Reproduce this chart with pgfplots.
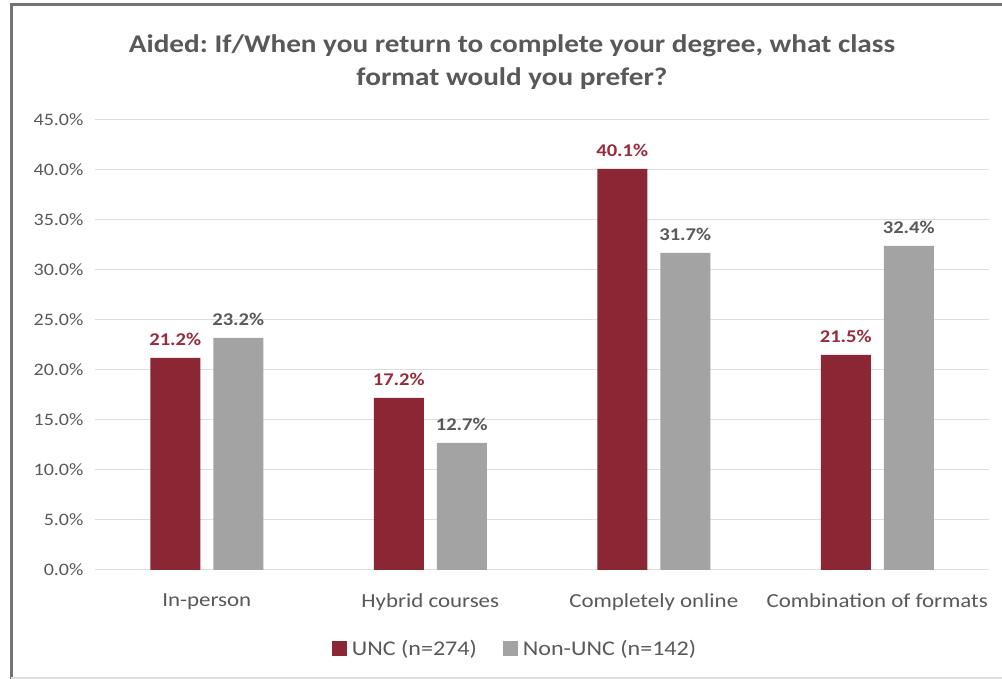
\documentclass[border=0pt]{standalone}
\usepackage{pgfplots}
\pgfplotsset{compat=1.18}
\usepackage{fontspec}
\setmainfont{Carlito}[FakeStretch=1.15]
\frenchspacing
\definecolor{uncred}{RGB}{139,38,53}
\definecolor{labred}{RGB}{150,45,60}
\definecolor{ncgray}{RGB}{163,163,163}
\definecolor{txt}{RGB}{89,89,89}
\definecolor{gridc}{RGB}{222,222,222}
\begin{document}
\begin{tikzpicture}[x=1bp,y=1bp]
\useasboundingbox (0,0) rectangle (1002,679);
\fill[white] (0,0) rectangle (1002,679);
\draw[line width=3bp, black!55] (11,0) -- (11,674) -- (1002,674);
\draw[line width=1.5bp, gridc] (11,1) -- (1002,1);
\node[text=txt, font=\fontsize{25.5}{33}\selectfont\bfseries, align=center] at (512,617) {Aided: If/When you return to complete your degree, what class\\format would you prefer?};
\begin{axis}[
  at={(95bp,109bp)}, anchor=south west,
  scale only axis, width=894bp, height=450bp,
  xmin=-0.5, xmax=3.5, ymin=0, ymax=45,
  ybar=13bp, bar width=50bp,
  xtick={0,1,2,3},
  xticklabels={In-person,Hybrid courses,Completely online,Combination of formats},
  ytick={0,5,...,45},
  yticklabel={\pgfmathprintnumber[fixed,fixed zerofill,precision=1,assume math mode=true]{\tick}\%},
  ymajorgrids, grid style={gridc, line width=1bp},
  axis line style={draw=none},
  tick style={draw=none},
  yticklabel style={font=\fontsize{17.5}{18}\selectfont, text=txt, xshift=-8bp},
  xticklabel style={font=\fontsize{20}{22}\selectfont, text=txt, yshift=-16bp},
  nodes near coords={\pgfmathprintnumber[fixed,fixed zerofill,precision=1,assume math mode=true]{\pgfplotspointmeta}\%},
  every node near coord/.append style={font=\fontsize{18}{20}\selectfont\bfseries, anchor=south, yshift=9bp},
  legend style={at={(rel axis cs:0.4698,-0.175)}, anchor=center, draw=none, fill=none,
    legend columns=2, font=\fontsize{21}{22}\selectfont, text=txt,
    /tikz/every odd column/.append style={column sep=3bp},
    /tikz/every even column/.append style={column sep=24bp}},
  legend image code/.code={\fill[#1] (0bp,-7.5bp) rectangle (15bp,7.5bp);},
]
\addplot[fill=uncred, draw=none, every node near coord/.append style={text=labred}]
  coordinates {(0,21.2) (1,17.2) (2,40.1) (3,21.5)};
\addplot[fill=ncgray, draw=none, every node near coord/.append style={text=txt}]
  coordinates {(0,23.2) (1,12.7) (2,31.7) (3,32.4)};
\legend{UNC (n=274),Non-UNC (n=142)}
\end{axis}
\end{tikzpicture}
\end{document}
